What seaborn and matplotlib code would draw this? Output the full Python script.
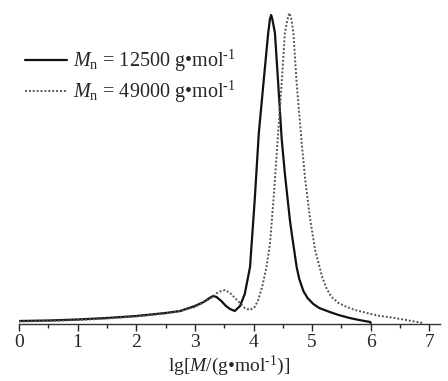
import numpy as np
import pandas as pd
import matplotlib
matplotlib.use("Agg")
import matplotlib.pyplot as plt
import seaborn as sns

# GPC traces (x = lg M, y = relative signal)
lgM_a = [0.0, 0.5, 1.0, 1.5, 2.0, 2.5, 2.75, 3.0, 3.15, 3.25, 3.31, 3.37, 3.45, 3.53,
         3.6, 3.68, 3.77, 3.85, 3.94, 4.02, 4.09, 4.195, 4.25, 4.28, 4.30, 4.32,
         4.365, 4.42, 4.48, 4.535, 4.62, 4.65, 4.735, 4.78, 4.85, 4.92, 5.02, 5.12,
         5.30, 5.45, 5.64, 5.8, 5.99, 6.0]
w_a = [3, 3.5, 4.5, 6, 8, 11, 13, 18, 22, 26, 28, 27, 23, 18,
       15, 13, 18, 30, 57, 124, 191, 257, 291, 305, 309, 305,
       291, 241, 185, 150, 104, 91, 57, 45, 33, 26, 20, 16,
       12, 9, 6, 4, 2, 1]

lgM_b = [0.0, 0.5, 1.0, 1.5, 2.0, 2.5, 2.75, 3.0, 3.25, 3.4, 3.51, 3.6, 3.7, 3.77,
         3.85, 3.94, 4.02, 4.08, 4.15, 4.22, 4.28, 4.34, 4.42, 4.48, 4.535, 4.58,
         4.61, 4.645, 4.68, 4.735, 4.82, 4.88, 4.96, 5.05, 5.17, 5.25, 5.33, 5.45,
         5.59, 5.73, 5.87, 6.0, 6.16, 6.3, 6.5, 6.7, 6.84, 6.9]
w_b = [2.5, 3, 4, 5.5, 7.5, 10.5, 13, 17, 25, 32, 34, 31, 25, 21,
       16, 14, 17, 24, 38, 57, 80, 124, 191, 241, 291, 305,
       311, 305, 291, 241, 182, 145, 107, 74, 47, 35, 27, 21,
       17, 14, 12, 10, 8, 7, 5, 3, 1.5, 1]

labels = [r"$M_{\rm n}$ = 12500 g•mol$^{\rm ‐1}$",
          r"$M_{\rm n}$ = 49000 g•mol$^{\rm ‐1}$"]

df = pd.concat([
    pd.DataFrame({"lgM": lgM_a, "w": w_a, "sample": labels[0]}),
    pd.DataFrame({"lgM": lgM_b, "w": w_b, "sample": labels[1]}),
])

sns.set_style("white")
plt.rcParams["font.family"] = ["Liberation Serif", "DejaVu Serif"]
plt.rcParams["mathtext.fontset"] = "custom"
plt.rcParams["mathtext.rm"] = "Liberation Serif"
plt.rcParams["mathtext.it"] = "Liberation Serif:italic"

fig = plt.figure(figsize=(4.48, 3.81), dpi=100)
ax = fig.add_axes([19 / 448, 57 / 381, 421 / 448, 319 / 381])

sns.lineplot(data=df, x="lgM", y="w", hue="sample", style="sample",
             palette={labels[0]: "#111111", labels[1]: "#555555"},
             dashes={labels[0]: "", labels[1]: (1, 1)},
             sort=False, estimator=None, ax=ax)
for line, lw in zip(ax.lines, [1.6, 1.4]):
    line.set_linewidth(lw)

ax.set_xlim(0, 7.18)
ax.set_ylim(0, 319)
ax.set_yticks([])
ax.set_xticks(range(8))
ax.set_xticks(np.arange(0.5, 7.5, 1.0), minor=True)
ax.tick_params(axis="x", which="major", direction="out", length=5, width=1,
               labelsize=14, pad=2, bottom=True)
ax.tick_params(axis="x", which="minor", direction="out", length=3, width=1, bottom=True)
for s in ["left", "top", "right"]:
    ax.spines[s].set_visible(False)
ax.spines["bottom"].set_color("#333333")
ax.spines["bottom"].set_linewidth(1.0)
ax.set_xlabel(r"lg[$M$/(g•mol$^{\rm ‐1}$)]", fontsize=14, labelpad=2)
ax.set_ylabel("")

leg = ax.legend(loc="upper left", bbox_to_anchor=(0.014, 0.866), frameon=False,
                fontsize=14.5, handlelength=2.1, handletextpad=0.3,
                labelspacing=0.25, borderaxespad=0, borderpad=0)
for h, lw in zip(leg.get_lines(), [1.6, 1.4]):
    h.set_linewidth(lw)

fig.savefig("out.png", dpi=100)
